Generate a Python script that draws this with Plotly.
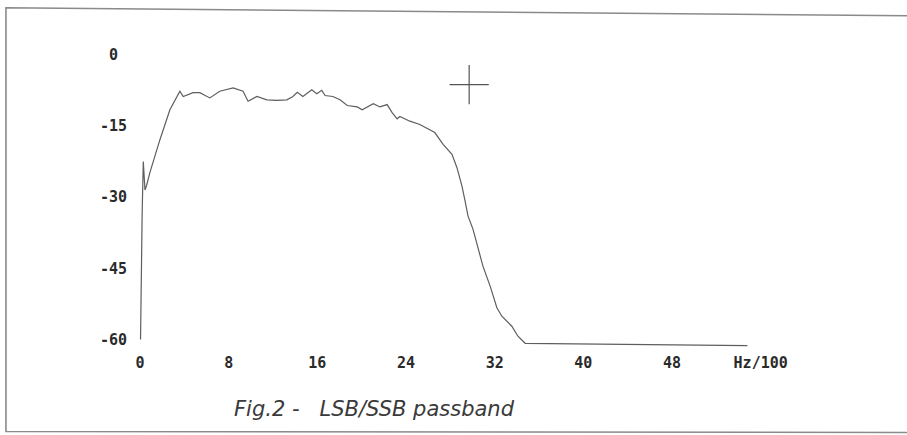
import plotly.graph_objects as go

# Frequency (Hz/100) and level (dB)
freq = [0.05, 0.1, 0.2, 0.3, 0.45, 0.6, 0.9, 1.8, 2.7, 3.6, 3.9, 4.8, 5.4, 6.3, 7.2, 8.4, 9.3, 9.75,
        10.55, 11.45, 12.35, 13.25, 13.8, 14.2, 14.7, 15.5, 15.95, 16.4, 16.7, 17.4, 18.05, 18.7,
        19.6, 20.05, 20.5, 21.05, 21.65, 22.3, 22.75, 23.2, 23.45, 24.35, 25.25, 26.15, 26.6,
        27.35, 28.15, 28.6, 29.05, 29.3, 29.6, 30.05, 30.5, 30.95, 31.6, 32.2, 32.65, 33.2,
        33.55, 34.1, 34.75, 54.8]
level = [-60.0, -45.0, -33.0, -22.5, -28.5, -27.5, -24.8, -17.9, -11.6, -7.7, -8.8, -8.0, -8.0,
         -9.1, -7.7, -7.0, -7.7, -9.8, -8.8, -9.5, -9.6, -9.5, -8.8, -7.9, -8.8, -7.4, -8.2,
         -7.5, -8.6, -8.8, -9.5, -10.7, -11.0, -11.6, -11.0, -10.3, -11.0, -10.5, -12.2, -13.5,
         -13.0, -14.0, -14.7, -15.8, -16.4, -18.9, -21.0, -23.8, -27.7, -30.5, -34.0, -36.8,
         -41.0, -44.6, -48.8, -53.3, -55.1, -56.5, -57.2, -59.3, -60.8, -61.3]

x_ticks = [0, 8, 16, 24, 32, 40, 48, 56]
x_ticktext = ["0", "8", "16", "24", "32", "40", "48", "Hz/100"]
y_ticks = [0, -15, -30, -45, -60]
y_ticktext = ["0\u00a0", "-15", "-30", "-45", "-60"]

cursor_x = [29.7]
cursor_y = [-6.3]

caption = "Fig.2 -\u00a0\u00a0\u00a0LSB/SSB passband"

W, H = 907, 435
L, R = 130.0, 804.8
T, B = 31.25, 349.5

fig = go.Figure()
fig.add_trace(go.Scatter(x=freq, y=level, mode="lines",
                         line=dict(color="#5e5e5e", width=1.2), hoverinfo="skip"))
fig.add_trace(go.Scatter(x=cursor_x, y=cursor_y, mode="markers",
                         marker=dict(symbol="cross-thin", size=28,
                                     line=dict(color="#555555", width=1.2)),
                         hoverinfo="skip"))

def px2paper(px, py):
    return (px - L) / (R - L), (B - py) / (B - T)

x0, y0 = px2paper(6, 8)
x1, y1 = px2paper(907, 16)
x2, y2 = px2paper(6, 432)
x3, y3 = px2paper(907, 433)
fig.add_shape(type="path", xref="paper", yref="paper",
              path=f"M {x1} {y1} L {x0} {y0} L {x2} {y2} L {x3} {y3}",
              line=dict(color="#8a8a8a", width=1.6))

cx, cy = px2paper(232, 410)
fig.add_annotation(xref="paper", yref="paper", x=cx, y=cy, xanchor="left", yanchor="middle",
                   text=caption, showarrow=False,
                   font=dict(family="DejaVu Sans", size=21, color="#3a3a3a",
                             style="italic"))

tickfont = dict(family="DejaVu Sans Mono", size=15, color="#2a2a2a", weight="bold")
fig.update_layout(
    width=W, height=H,
    margin=dict(l=L, r=W - R, t=T, b=H - B, pad=0),
    paper_bgcolor="white", plot_bgcolor="white",
    showlegend=False,
    xaxis=dict(range=[-0.9, 60], tickvals=x_ticks, ticktext=x_ticktext, showgrid=False,
               zeroline=False, showline=False, ticks="", tickfont=tickfont,
               ticklabelstandoff=3),
    yaxis=dict(range=[-62, 5], tickvals=y_ticks, ticktext=y_ticktext, showgrid=False,
               zeroline=False, showline=False, ticks="", tickfont=tickfont,
               ticklabelstandoff=2),
)
fig.write_html("out.html", config={"displayModeBar": False},
               post_script="document.body.style.margin='0';document.body.style.overflow='hidden';")
